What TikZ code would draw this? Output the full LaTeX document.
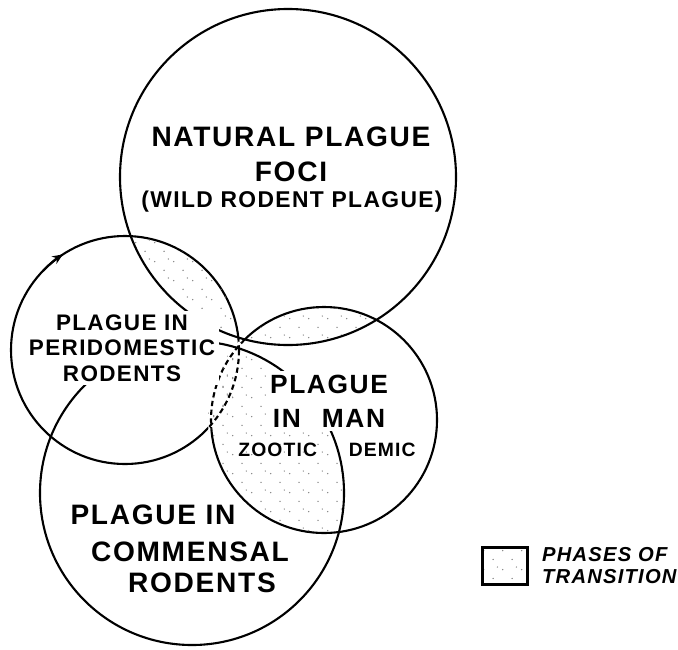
\documentclass[tikz,border=0pt]{standalone}
\usepackage{fontspec}
\setmainfont{Liberation Sans}[LetterSpace=6]
\usetikzlibrary{arrows.meta,positioning,patterns}
\pgfdeclarepatternformonly{stipple}{\pgfqpoint{0pt}{0pt}}{\pgfqpoint{11pt}{11pt}}{\pgfqpoint{11pt}{11pt}}{%
  \pgfpathcircle{\pgfqpoint{1pt}{2pt}}{0.45pt}%
  \pgfpathcircle{\pgfqpoint{6.5pt}{8pt}}{0.45pt}%
  \pgfpathcircle{\pgfqpoint{9pt}{3.5pt}}{0.4pt}%
  \pgfusepath{fill}}
\tikzset{
  >={Stealth[length=6pt,width=5pt]},
  ring/.style={line width=1.2pt,draw=black},
  seam/.style={dash pattern=on 3pt off 2pt},
  phase/.style={pattern=stipple,pattern color=black!50},
  lbl/.style={font=\bfseries\fontsize{#1}{#1}\selectfont,align=center,inner sep=1pt},
  mask/.style={fill=white,inner sep=2pt},
}

\begin{document}
\begin{tikzpicture}[x=0.02cm,y=-0.02cm]
  \useasboundingbox (0,0) rectangle (678,649);
  % centres of the four fields
  \coordinate (foci) at (288,177);
  \coordinate (peri) at (125,350);
  \coordinate (man)  at (324,420);
  \coordinate (comm) at (192,493);

  \draw[ring] (peri) circle[radius=114];
  \draw[ring] (man) circle[radius=113];
  % transition rodents -> man, dashed seam
  \begin{scope}
    \clip (peri) circle[radius=117];
    \clip (man) circle[radius=116];
    \fill[white] (man) circle[radius=116];
    \fill[phase] (man) circle[radius=116];
    \draw[ring,seam] (peri) circle[radius=114];
    \draw[ring,seam] (man) circle[radius=113];
  \end{scope}
  \foreach \a/\ra/\b/\rb in {foci/168/peri/114,foci/168/man/113,man/113/comm/152}{
    \begin{scope}
      \clip (\a) circle[radius=\ra];
      \fill[phase] (\b) circle[radius=\rb];
    \end{scope}
  }
  \draw[ring] (foci) circle[radius=168];
  \draw[ring] (comm) circle[radius=152];
  \draw[ring,->] ([shift={(224:114)}]peri) arc[start angle=224,end angle=237,radius=114];

  \node[lbl=16] (natural) at (291,154) {NATURAL PLAGUE\\[3.8pt]FOCI};
  \node[lbl=13] (wild) at (292,202) {(WILD RODENT PLAGUE)};
  \node[lbl=12.8,mask] (peritext) at (122,348) {PLAGUE IN\\[1.7pt]PERIDOMESTIC\\[1.7pt]RODENTS};
  \node[lbl=15,mask] (mantext) at (329,401) {PLAGUE\\[4.3pt]IN\hspace{0.8em}MAN};
  \node[lbl=11] (zootic) at (327,450) {ZOOTIC\hspace{18pt}DEMIC};
  \foreach \t/\x/\y [count=\i] in {PLAGUE IN/153/515,COMMENSAL/190/552,RODENTS/202/583}
    \node[lbl=16] (commtext\i) at (\x,\y) {\t};

  % legend
  \node[draw,line width=1.5pt,phase,minimum width=0.9cm,minimum height=0.74cm,inner sep=0pt] (key) at (505,566) {};
  \node[font=\bfseries\itshape\fontsize{11.5}{11.5}\selectfont,align=left,inner sep=0pt,right=0.26cm of key] (keytext) {PHASES OF\\[1pt]TRANSITION};
\end{tikzpicture}
\end{document}
